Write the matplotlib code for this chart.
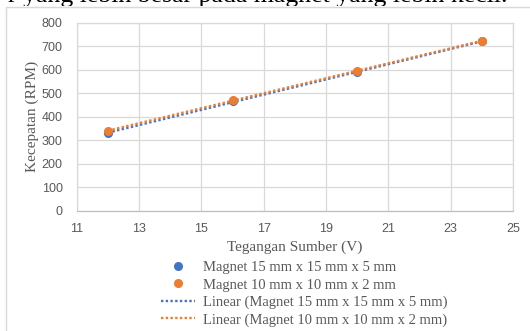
import matplotlib
matplotlib.use('Agg')
import matplotlib.pyplot as plt
from matplotlib.patches import Rectangle
from matplotlib.lines import Line2D
from matplotlib.transforms import Bbox, TransformedBbox
import numpy as np

# Data
tegangan = [12, 16, 20, 24]
rpm_15mm = [330, 465, 590, 720]
rpm_10mm = [338, 472, 595, 722]

label_15 = 'Magnet 15 mm x 15 mm x 5 mm'
label_10 = 'Magnet 10 mm x 10 mm x 2 mm'
x_ticks = [11, 13, 15, 17, 19, 21, 23, 25]
y_ticks = [0, 100, 200, 300, 400, 500, 600, 700, 800]

BLUE = '#4472C4'
ORANGE = '#ED7D31'
GRID = '#D9D9D9'
TXT = '#595959'
SERIF = 'Liberation Serif'
SANS = 'Liberation Sans'

fig = plt.figure(figsize=(5.3, 3.31), dpi=100)
ax = fig.add_axes([76.7 / 530, 1 - 210.7 / 331, (513 - 76.7) / 530, (210.7 - 22.7) / 331])

# cropped line of body text above the chart: only its lower part shows,
# the chart image covers the descenders
top_txt = fig.text(508 / 530, 1 - 2 / 331, 'r yang lebih besar pada magnet yang lebih kecil.',
                   ha='right', va='baseline', fontsize=18.5, family=SERIF, color='black')
top_txt.set_clip_box(TransformedBbox(Bbox([[0, 1 - 6 / 331], [1, 1.2]]), fig.transFigure))
top_txt.set_clip_on(True)

# chart frame
fig.patches.append(Rectangle((6 / 530, -0.1), 1.2, (331 - 7) / 331 + 0.1,
                             transform=fig.transFigure, fill=False,
                             edgecolor=GRID, linewidth=1.0))

# linear trendlines
x = np.array(tegangan, dtype=float)
for y, color in [(rpm_15mm, BLUE), (rpm_10mm, ORANGE)]:
    k, b = np.polyfit(x, y, 1)
    ax.plot(x, k * x + b, color=color, linestyle=(0, (1, 1)), linewidth=1.7, zorder=3)

ax.plot(tegangan, rpm_15mm, 'o', color=BLUE, markersize=5.5, zorder=4)
ax.plot(tegangan, rpm_10mm, 'o', color=ORANGE, markersize=5.5, zorder=5)

ax.set_xlim(11, 25)
ax.set_ylim(0, 800)
ax.set_xticks(x_ticks)
ax.set_yticks(y_ticks)
ax.grid(True, color=GRID, linewidth=0.9)
ax.set_axisbelow(True)
for s in ax.spines.values():
    s.set_color(GRID)
    s.set_linewidth(0.9)
ax.spines['bottom'].set_color('#BFBFBF')
ax.tick_params(length=0, colors=TXT, labelsize=9)
ax.tick_params(axis='y', pad=10)
ax.tick_params(axis='x', pad=9)
for lbl in ax.get_xticklabels() + ax.get_yticklabels():
    lbl.set_family(SANS)

ax.set_xlabel('Tegangan Sumber (V)', family=SERIF, fontsize=11, color=TXT)
ax.set_ylabel('Kecepatan (RPM)', family=SERIF, fontsize=11, color=TXT)
ax.xaxis.set_label_coords(0.5, -(241 - 210.7) / 188)
ax.yaxis.set_label_coords(-(76.7 - 39) / 436.3, 0.5)

handles = [
    Line2D([], [], marker='o', linestyle='none', color=BLUE, markersize=5.5),
    Line2D([], [], marker='o', linestyle='none', color=ORANGE, markersize=5.5),
    Line2D([], [], color=BLUE, linestyle=(0, (1, 1)), linewidth=1.7),
    Line2D([], [], color=ORANGE, linestyle=(0, (1, 1)), linewidth=1.7),
]
labels = [label_15, label_10, f'Linear ({label_15})', f'Linear ({label_10})']
leg = fig.legend(handles, labels, loc='upper left',
                 bbox_to_anchor=(161 / 530, 1 - 261 / 331),
                 frameon=False, prop={'family': SERIF, 'size': 10.5},
                 handlelength=2.3, handletextpad=0.55, labelspacing=0.28,
                 borderpad=0, borderaxespad=0)
for t in leg.get_texts():
    t.set_color(TXT)

fig.savefig('out.png', dpi=100)
